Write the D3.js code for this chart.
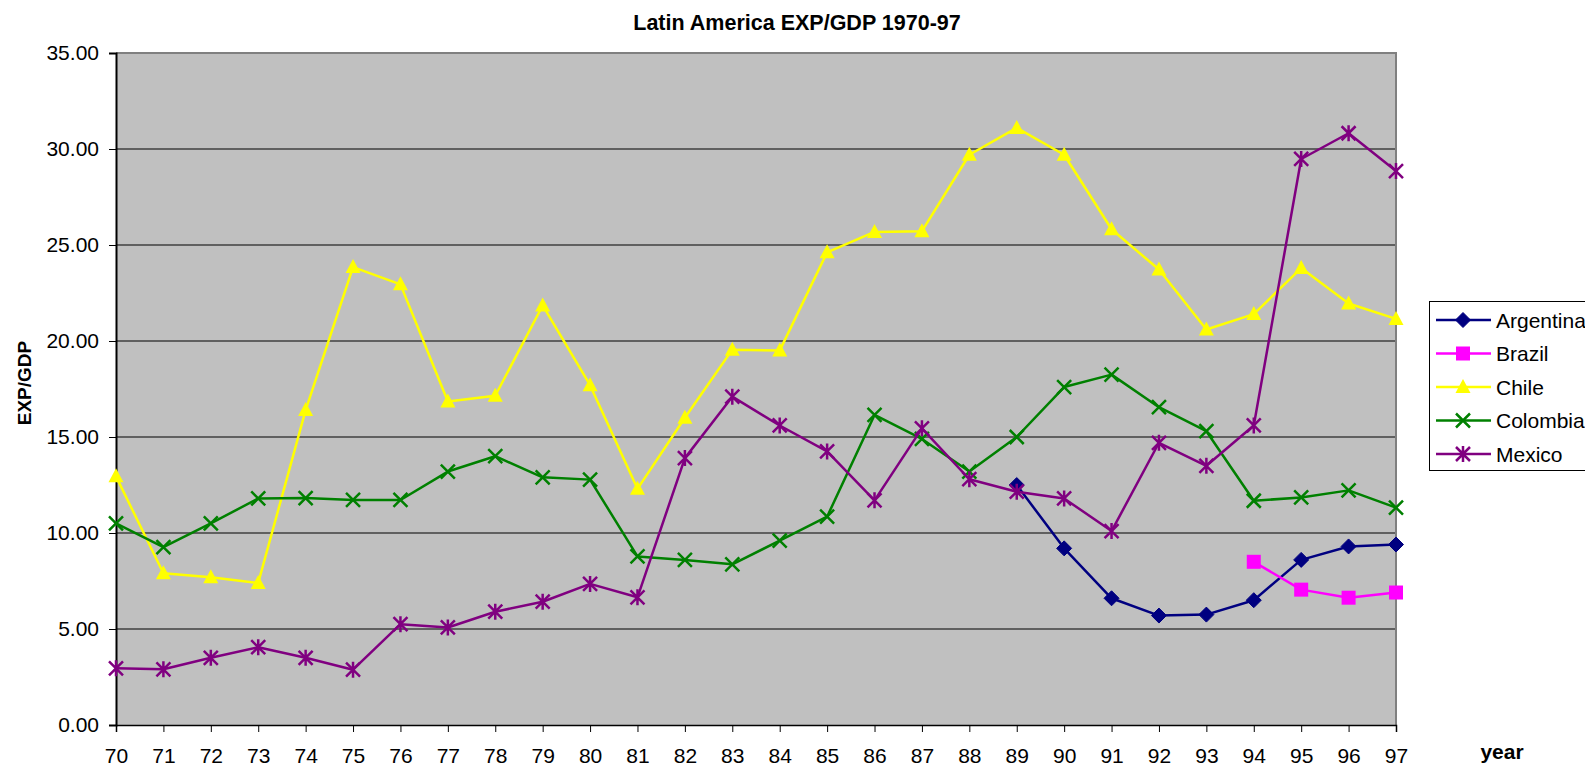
<!DOCTYPE html>
<html>
<head>
  <meta charset="utf-8">
  <script src="https://d3js.org/d3.v7.min.js"></script>
  <style>
    html, body { margin: 0; padding: 0; background: #fff; }
    svg { display: block; font-family: "Liberation Sans", Arial, sans-serif; }
  </style>
</head>
<body>
  <svg id="viz"></svg>
  <script>
    var years = ["70","71","72","73","74","75","76","77","78","79","80","81","82","83","84","85","86","87","88","89","90","91","92","93","94","95","96","97"];
    var yTicks = [0, 5, 10, 15, 20, 25, 30, 35];

    var argentina = [null,null,null,null,null,null,null,null,null,null,null,null,null,null,null,null,null,null,null,12.5,9.2,6.6,5.7,5.75,6.5,8.6,9.3,9.4];
    var brazil = [null,null,null,null,null,null,null,null,null,null,null,null,null,null,null,null,null,null,null,null,null,null,null,null,8.5,7.05,6.63,6.9];
    var chile = [12.95,7.9,7.7,7.4,16.4,23.85,22.95,16.85,17.15,21.85,17.7,12.3,16.0,19.55,19.5,24.62,25.68,25.72,29.7,31.1,29.7,25.82,23.72,20.6,21.4,23.8,21.95,21.15];
    var colombia = [10.5,9.26,10.5,11.8,11.82,11.72,11.72,13.2,14.0,12.9,12.78,8.78,8.6,8.37,9.6,10.85,16.15,14.9,13.2,15.0,17.6,18.25,16.55,15.3,11.68,11.85,12.22,11.32];
    var mexico = [2.95,2.9,3.5,4.05,3.5,2.88,5.25,5.08,5.9,6.42,7.35,6.65,13.9,17.1,15.6,14.25,11.7,15.45,12.8,12.15,11.8,10.1,14.7,13.5,15.6,29.48,30.82,28.85];

    var seriesNames = ["Argentina", "Brazil", "Chile", "Colombia", "Mexico"];
    var seriesValues = [argentina, brazil, chile, colombia, mexico];
    var seriesColors = ["#000080", "#FF00FF", "#FFFF00", "#008000", "#800080"];
    var seriesMarkers = ["diamond", "square", "triangle", "x", "star"];

    var W = 1585, H = 768;
    var plot = { left: 116, right: 1396, top: 53, bottom: 725 };

    var svg = d3.select("#viz").attr("width", W).attr("height", H);

    var x = d3.scalePoint().domain(years).range([plot.left, plot.right]);
    var y = d3.scaleLinear().domain([0, 35]).range([plot.bottom, plot.top]);

    // plot background
    svg.append("rect")
      .attr("x", plot.left).attr("y", plot.top)
      .attr("width", plot.right - plot.left).attr("height", plot.bottom - plot.top)
      .attr("fill", "#C0C0C0");

    // gridlines
    svg.append("g").selectAll("line")
      .data(yTicks.filter(function(d) { return d > 0 && d < 35; }))
      .enter().append("line")
      .attr("x1", plot.left).attr("x2", plot.right)
      .attr("y1", function(d) { return y(d); }).attr("y2", function(d) { return y(d); })
      .attr("stroke", "#000").attr("stroke-width", 1);

    // top and right border (gray)
    svg.append("path")
      .attr("d", "M" + plot.left + "," + plot.top + "H" + plot.right + "V" + plot.bottom)
      .attr("fill", "none").attr("stroke", "#808080").attr("stroke-width", 2);

    // y axis
    var yAxis = svg.append("g")
      .attr("transform", "translate(" + plot.left + ",0)")
      .call(d3.axisLeft(y).tickValues(yTicks).tickFormat(d3.format(".2f")).tickSize(7).tickPadding(10));
    yAxis.select(".domain").attr("stroke", "#000").attr("stroke-width", 2);
    yAxis.selectAll(".tick line").attr("stroke", "#000");
    yAxis.selectAll("text").attr("font-size", "21px").attr("fill", "#000").attr("font-family", "Liberation Sans, Arial, sans-serif");

    // x axis
    var xAxis = svg.append("g")
      .attr("transform", "translate(0," + plot.bottom + ")")
      .call(d3.axisBottom(x).tickSize(7).tickPadding(16));
    xAxis.select(".domain").attr("stroke", "#000").attr("stroke-width", 1.5);
    xAxis.selectAll(".tick line").attr("stroke", "#000");
    xAxis.selectAll("text").attr("font-size", "21px").attr("fill", "#000").attr("font-family", "Liberation Sans, Arial, sans-serif");

    // titles
    svg.append("text")
      .attr("x", 797).attr("y", 30)
      .attr("text-anchor", "middle")
      .attr("font-size", "21.5px").attr("font-weight", "bold")
      .text("Latin America EXP/GDP 1970-97");

    svg.append("text")
      .attr("transform", "translate(31,383) rotate(-90)")
      .attr("text-anchor", "middle")
      .attr("font-size", "19px").attr("font-weight", "bold")
      .text("EXP/GDP");

    svg.append("text")
      .attr("x", 1502).attr("y", 759)
      .attr("text-anchor", "middle")
      .attr("font-size", "21px").attr("font-weight", "bold")
      .text("year");

    function drawMarker(g, type, color) {
      if (type === "diamond") {
        g.append("path").attr("d", "M0,-7.5L7.5,0L0,7.5L-7.5,0Z").attr("fill", color).attr("stroke", color).attr("stroke-width", 1);
      } else if (type === "square") {
        g.append("rect").attr("x", -7).attr("y", -7).attr("width", 14).attr("height", 14).attr("fill", color);
      } else if (type === "triangle") {
        g.append("path").attr("d", "M0,-8L7.5,6L-7.5,6Z").attr("fill", color);
      } else if (type === "x") {
        g.append("path").attr("d", "M-7,-7L7,7M-7,7L7,-7").attr("stroke", color).attr("stroke-width", 2.5).attr("fill", "none");
      } else if (type === "star") {
        g.append("path").attr("d", "M-7,-7L7,7M-7,7L7,-7M0,-8V8").attr("stroke", color).attr("stroke-width", 2.5).attr("fill", "none");
      }
    }

    var line = d3.line()
      .defined(function(d) { return d != null; })
      .x(function(d, i) { return x(years[i]); })
      .y(function(d) { return y(d); });

    seriesValues.forEach(function(vals, s) {
      var g = svg.append("g");
      g.append("path")
        .attr("d", line(vals))
        .attr("fill", "none")
        .attr("stroke", seriesColors[s])
        .attr("stroke-width", 2.5)
        .attr("stroke-linejoin", "round");
      vals.forEach(function(v, i) {
        if (v == null) return;
        var m = g.append("g").attr("transform", "translate(" + x(years[i]) + "," + y(v) + ")");
        drawMarker(m, seriesMarkers[s], seriesColors[s]);
      });
    });

    // legend
    var legend = svg.append("g");
    legend.append("rect")
      .attr("x", 1429.5).attr("y", 301.5)
      .attr("width", 200).attr("height", 169)
      .attr("fill", "#fff").attr("stroke", "#000").attr("stroke-width", 1);

    seriesNames.forEach(function(name, s) {
      var ly = 320 + s * 33.5;
      var item = legend.append("g");
      item.append("line")
        .attr("x1", 1436).attr("x2", 1491).attr("y1", ly).attr("y2", ly)
        .attr("stroke", seriesColors[s]).attr("stroke-width", 2.5);
      var m = item.append("g").attr("transform", "translate(1463," + ly + ")");
      drawMarker(m, seriesMarkers[s], seriesColors[s]);
      item.append("text")
        .attr("x", 1496).attr("y", ly + 7.5)
        .attr("font-size", "21px")
        .text(name);
    });
  </script>
</body>
</html>
